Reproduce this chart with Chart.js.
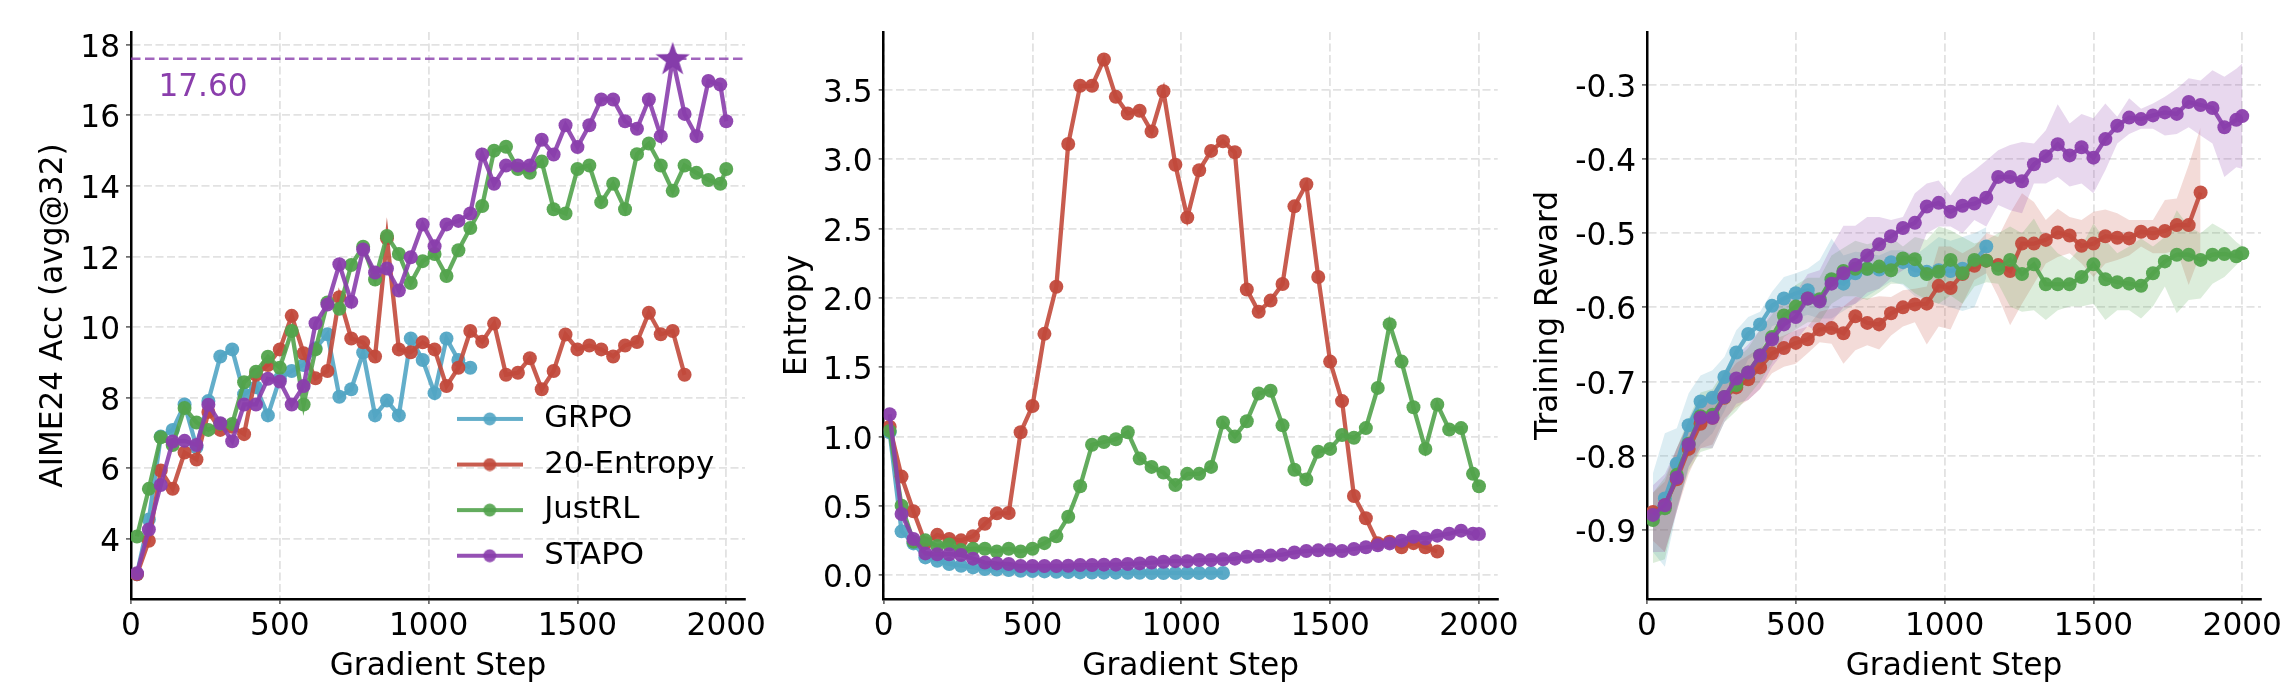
<!DOCTYPE html>
<html>
<head>
<meta charset="utf-8">
<script src="https://cdn.jsdelivr.net/npm/chart.js@4"></script>
<style>
  html, body { margin: 0; padding: 0; background: #fff; }
  canvas { position: absolute; top: 0; }
</style>
</head>
<body>
<canvas id="accChart" width="785" height="700" style="left:0"></canvas>
<canvas id="entropyChart" width="768" height="700" style="left:770px"></canvas>
<canvas id="rewardChart" width="786" height="700" style="left:1510px"></canvas>
<script>
const steps = [20, 60, 100, 140, 180, 220, 260, 300, 340, 380, 420, 460, 500, 540, 580, 620, 660, 700, 740, 780, 820, 860, 900, 940, 980,
    1020, 1060, 1100, 1140, 1180, 1220, 1260, 1300, 1340, 1380, 1420, 1460, 1500, 1540, 1580, 1620, 1660, 1700, 1740, 1780, 1820, 1860, 1900, 1940, 1980, 2000];

const names = ['GRPO', '20-Entropy', 'JustRL', 'STAPO'];
const colors = ['82, 165, 196', '194, 74, 60', '82, 163, 76', '138, 62, 172'];

const stepTicks = [0, 500, 1000, 1500, 2000];
const accTicks = [4, 6, 8, 10, 12, 14, 16, 18];
const entTicks = [0, 0.5, 1, 1.5, 2, 2.5, 3, 3.5];
const rewTicks = [-0.9, -0.8, -0.7, -0.6, -0.5, -0.4, -0.3];

// AIME24 Acc (avg@32)
const accGrpo = [3.0, 4.55, 6.9, 7.09, 7.81, 6.6, 7.91, 9.17, 9.37, 8.1, 8.3, 7.5, 8.55, 8.76, 8.93, 9.4, 9.8, 8.03, 8.24, 9.28, 7.5, 7.92, 7.5, 9.68, 9.07, 8.13, 9.68, 9.07, 8.85];
const accEntropy = [3.0, 3.95, 5.94, 5.42, 6.45, 6.25, 7.6, 7.09, 7.18, 6.97, 8.65, 8.93, 9.37, 10.32, 9.26, 8.55, 8.76, 10.85, 9.68, 9.57, 9.17, 12.52, 9.37, 9.29, 9.57,
    9.37, 8.33, 8.85, 9.89, 9.59, 10.1, 8.65, 8.71, 9.12, 8.24, 8.76, 9.79, 9.37, 9.48, 9.37, 9.17, 9.48, 9.58, 10.41, 9.8, 9.89, 8.65];
const accJustrl = [4.07, 5.42, 6.88, 6.66, 7.71, 7.3, 7.09, 7.26, 7.26, 8.44, 8.74, 9.16, 8.85, 9.89, 7.81, 9.37, 10.7, 10.52, 11.76, 12.28, 11.35, 12.58, 12.07, 11.25, 11.87,
    12.07, 11.45, 12.18, 12.81, 13.43, 15.0, 15.11, 14.48, 14.37, 14.69, 13.34, 13.22, 14.48, 14.58, 13.54, 14.06, 13.34, 14.9, 15.2, 14.58, 13.86, 14.58, 14.37, 14.17, 14.06, 14.48];
const accStapo = [3.03, 4.27, 5.53, 6.76, 6.78, 6.66, 7.8, 7.28, 6.77, 7.81, 7.81, 8.54, 8.46, 7.81, 8.33, 10.11, 10.64, 11.78, 10.72, 12.2, 11.55, 11.66, 11.04, 11.98, 12.91,
    12.29, 12.91, 13.01, 13.22, 14.89, 14.06, 14.58, 14.58, 14.58, 15.31, 14.89, 15.72, 15.1, 15.72, 16.45, 16.45, 15.83, 15.62, 16.45, 15.41, 17.6, 16.04, 15.41, 16.97, 16.87, 15.83];
const bestStep = 1820;
const bestAcc = 17.6;
const bestLabel = '17.60';

// Entropy
const entGrpo = [1.03, 0.315, 0.228, 0.127, 0.103, 0.08, 0.067, 0.055, 0.043, 0.04, 0.036, 0.03, 0.029, 0.026, 0.024, 0.022, 0.019, 0.018, 0.017, 0.017, 0.016, 0.016, 0.015, 0.015, 0.015, 0.015, 0.015, 0.015, 0.015];
const entEntropy = [1.07, 0.71, 0.46, 0.23, 0.29, 0.26, 0.25, 0.28, 0.37, 0.445, 0.447, 1.03, 1.22, 1.74, 2.08, 3.11, 3.53, 3.53, 3.72, 3.45, 3.33, 3.35, 3.2, 3.49, 2.96,
    2.58, 2.92, 3.06, 3.13, 3.05, 2.06, 1.9, 1.98, 2.1, 2.66, 2.82, 2.15, 1.54, 1.255, 0.57, 0.41, 0.23, 0.24, 0.2, 0.23, 0.2, 0.17];
const entJustrl = [1.04, 0.5, 0.24, 0.25, 0.21, 0.22, 0.18, 0.19, 0.19, 0.17, 0.19, 0.17, 0.19, 0.23, 0.28, 0.42, 0.64, 0.94, 0.96, 0.98, 1.03, 0.84, 0.78, 0.74, 0.65,
    0.73, 0.73, 0.78, 1.1, 1.0, 1.11, 1.31, 1.33, 1.08, 0.76, 0.69, 0.89, 0.91, 1.01, 0.99, 1.06, 1.35, 1.81, 1.54, 1.21, 0.91, 1.23, 1.05, 1.06, 0.73, 0.64];
const entStapo = [1.16, 0.44, 0.26, 0.156, 0.15, 0.15, 0.145, 0.118, 0.09, 0.084, 0.08, 0.065, 0.065, 0.065, 0.065, 0.067, 0.072, 0.072, 0.075, 0.075, 0.08, 0.084, 0.09, 0.096, 0.1,
    0.1, 0.108, 0.108, 0.113, 0.118, 0.132, 0.137, 0.14, 0.147, 0.163, 0.173, 0.178, 0.18, 0.173, 0.188, 0.2, 0.214, 0.228, 0.248, 0.276, 0.264, 0.284, 0.298, 0.32, 0.298, 0.296];

// Training reward, mean and band edges
const rewGrpo = [-0.88, -0.858, -0.811, -0.759, -0.727, -0.722, -0.694, -0.661, -0.636, -0.623, -0.598, -0.588, -0.581, -0.577, -0.59, -0.563, -0.568, -0.554, -0.548, -0.549, -0.539, -0.539, -0.55, -0.552, -0.55, -0.551, -0.548, -0.539, -0.518];
const rewGrpoHigh = [-0.824, -0.77, -0.763, -0.716, -0.692, -0.685, -0.667, -0.631, -0.613, -0.606, -0.579, -0.559, -0.554, -0.548, -0.536, -0.507, -0.53, -0.525, -0.527, -0.53, -0.523, -0.523, -0.53, -0.518, -0.505, -0.51, -0.505, -0.5, -0.492];
const rewGrpoLow = [-0.93, -0.95, -0.875, -0.815, -0.785, -0.77, -0.74, -0.705, -0.67, -0.66, -0.625, -0.62, -0.615, -0.61, -0.615, -0.615, -0.605, -0.595, -0.585, -0.575, -0.565, -0.57, -0.585, -0.59, -0.595, -0.6, -0.605, -0.6, -0.56];

const rewEntropy = [-0.876, -0.867, -0.832, -0.791, -0.757, -0.749, -0.722, -0.708, -0.697, -0.681, -0.662, -0.655, -0.648, -0.643, -0.63, -0.628, -0.635, -0.612, -0.621, -0.623, -0.608, -0.6, -0.596, -0.595, -0.571,
    -0.574, -0.555, -0.544, -0.537, -0.543, -0.551, -0.514, -0.514, -0.509, -0.499, -0.503, -0.517, -0.514, -0.504, -0.506, -0.507, -0.498, -0.5, -0.497, -0.489, -0.489, -0.445];
const rewEntropyHigh = [-0.85, -0.835, -0.79, -0.755, -0.725, -0.715, -0.695, -0.675, -0.665, -0.655, -0.644, -0.638, -0.631, -0.626, -0.606, -0.602, -0.599, -0.586, -0.588, -0.585, -0.586, -0.577, -0.575, -0.572, -0.518,
    -0.518, -0.527, -0.518, -0.5, -0.505, -0.473, -0.446, -0.458, -0.482, -0.467, -0.478, -0.482, -0.471, -0.468, -0.473, -0.482, -0.482, -0.482, -0.455, -0.453, -0.408, -0.357];
const rewEntropyLow = [-0.915, -0.93, -0.875, -0.825, -0.79, -0.785, -0.75, -0.735, -0.725, -0.71, -0.689, -0.68, -0.676, -0.662, -0.647, -0.649, -0.676, -0.658, -0.651, -0.657, -0.638, -0.626, -0.62, -0.65, -0.626,
    -0.63, -0.595, -0.563, -0.554, -0.586, -0.624, -0.595, -0.568, -0.541, -0.532, -0.527, -0.541, -0.559, -0.541, -0.536, -0.53, -0.518, -0.527, -0.527, -0.523, -0.57, -0.527];

const rewJustrl = [-0.887, -0.871, -0.826, -0.784, -0.747, -0.745, -0.721, -0.705, -0.688, -0.665, -0.64, -0.611, -0.599, -0.588, -0.589, -0.562, -0.551, -0.548, -0.548, -0.545, -0.55, -0.534, -0.535, -0.555, -0.552,
    -0.536, -0.554, -0.536, -0.537, -0.548, -0.536, -0.555, -0.542, -0.569, -0.569, -0.569, -0.559, -0.542, -0.562, -0.566, -0.568, -0.571, -0.554, -0.538, -0.529, -0.529, -0.536, -0.529, -0.528, -0.531, -0.527];
const rewJustrlHigh = [-0.85, -0.83, -0.79, -0.75, -0.715, -0.71, -0.685, -0.67, -0.655, -0.63, -0.61, -0.585, -0.57, -0.56, -0.56, -0.53, -0.52, -0.51, -0.515, -0.51, -0.505, -0.518, -0.505, -0.509, -0.491,
    -0.496, -0.505, -0.514, -0.509, -0.5, -0.491, -0.5, -0.48, -0.509, -0.527, -0.536, -0.518, -0.487, -0.509, -0.527, -0.518, -0.507, -0.518, -0.505, -0.469, -0.491, -0.5, -0.487, -0.496, -0.512, -0.518];
const rewJustrlLow = [-0.945, -0.94, -0.87, -0.82, -0.795, -0.79, -0.755, -0.74, -0.72, -0.7, -0.675, -0.64, -0.63, -0.62, -0.62, -0.595, -0.585, -0.585, -0.59, -0.58, -0.568, -0.568, -0.581, -0.59, -0.595,
    -0.584, -0.595, -0.572, -0.566, -0.568, -0.599, -0.606, -0.604, -0.617, -0.604, -0.599, -0.599, -0.595, -0.617, -0.604, -0.604, -0.615, -0.599, -0.572, -0.608, -0.59, -0.588, -0.568, -0.559, -0.543, -0.536];

const rewStapo = [-0.88, -0.867, -0.83, -0.785, -0.749, -0.749, -0.721, -0.696, -0.688, -0.665, -0.643, -0.623, -0.613, -0.588, -0.592, -0.568, -0.554, -0.543, -0.53, -0.515, -0.504, -0.493, -0.486, -0.464, -0.459,
    -0.471, -0.463, -0.46, -0.452, -0.424, -0.424, -0.43, -0.407, -0.396, -0.38, -0.395, -0.384, -0.398, -0.373, -0.355, -0.344, -0.346, -0.341, -0.337, -0.339, -0.323, -0.327, -0.331, -0.357, -0.347, -0.342];
const rewStapoHigh = [-0.84, -0.825, -0.79, -0.755, -0.725, -0.715, -0.69, -0.665, -0.65, -0.63, -0.605, -0.585, -0.58, -0.555, -0.55, -0.518, -0.49, -0.49, -0.478, -0.478, -0.482, -0.478, -0.446, -0.433, -0.429,
    -0.449, -0.426, -0.415, -0.402, -0.388, -0.381, -0.377, -0.379, -0.361, -0.326, -0.352, -0.339, -0.345, -0.325, -0.343, -0.318, -0.332, -0.325, -0.316, -0.305, -0.291, -0.294, -0.28, -0.289, -0.278, -0.271];
const rewStapoLow = [-0.93, -0.93, -0.875, -0.815, -0.79, -0.79, -0.755, -0.73, -0.725, -0.71, -0.68, -0.66, -0.645, -0.625, -0.635, -0.62, -0.6, -0.595, -0.58, -0.575, -0.56, -0.55, -0.54, -0.5, -0.491,
    -0.491, -0.5, -0.482, -0.491, -0.462, -0.469, -0.473, -0.433, -0.433, -0.424, -0.437, -0.433, -0.446, -0.415, -0.379, -0.366, -0.359, -0.359, -0.368, -0.366, -0.357, -0.368, -0.379, -0.424, -0.411, -0.413];

const fontFamily = "'DejaVu Sans', sans-serif";
const xEnd = 2063;

function pts(vals) {
    return vals.map(function (v, i) { return { x: steps[i], y: v }; });
}

function lineSet(vals, index) {
    return {
        label: names[index],
        data: pts(vals),
        borderColor: `rgba(${colors[index]}, 0.9)`,
        backgroundColor: `rgba(${colors[index]}, 0.95)`,
        borderWidth: 4.3,
        pointRadius: 7,
        pointBorderWidth: 0,
        tension: 0,
        fill: false,
        order: 4 - index,
    };
}

function bandSets(high, low, index) {
    return [
        {
            label: names[index] + ' high',
            data: pts(high),
            borderWidth: 0,
            pointRadius: 0,
            backgroundColor: `rgba(${colors[index]}, 0.2)`,
            fill: '+1',
            order: 20 - index,
        },
        {
            label: names[index] + ' low',
            data: pts(low),
            borderWidth: 0,
            pointRadius: 0,
            fill: false,
            order: 20 - index,
        },
    ];
}

function swatch(index) {
    const c = document.createElement('canvas');
    c.width = 66;
    c.height = 14;
    const g = c.getContext('2d');
    g.fillStyle = `rgba(${colors[index]}, 0.9)`;
    g.fillRect(0, 5, 66, 4);
    g.beginPath();
    g.arc(33, 7, 6.5, 0, Math.PI * 2);
    g.fill();
    return c;
}

function starImage() {
    const c = document.createElement('canvas');
    c.width = 36;
    c.height = 36;
    const g = c.getContext('2d');
    g.fillStyle = 'rgb(133, 60, 170)';
    g.beginPath();
    for (let i = 0; i < 10; i++) {
        const r = i % 2 ? 7 : 18;
        const a = -Math.PI / 2 + i * Math.PI / 5;
        g.lineTo(18 + r * Math.cos(a), 19 + r * Math.sin(a));
    }
    g.closePath();
    g.fill();
    return c;
}

function setTicks(values) {
    return function (scale) {
        scale.ticks = values.map(function (v) { return { value: v }; });
    };
}

function axisOptions(spec) {
    const gridStyle = {
        color: '#e2e2e2',
        lineWidth: 1.8,
        tickColor: '#555',
        tickWidth: 1.5,
        tickBorderDash: [],
        tickLength: 5,
    };
    const borderStyle = { color: '#000', width: 2.5, dash: [8, 3.5] };
    return {
        x: {
            type: 'linear',
            min: 0,
            max: xEnd,
            grid: gridStyle,
            border: borderStyle,
            afterBuildTicks: setTicks(stepTicks),
            ticks: {
                autoSkip: false,
                maxRotation: 0,
                color: '#000',
                padding: 4,
                font: { family: fontFamily, size: 31.2 },
                callback: function (v) { return String(v); },
            },
            title: {
                display: true,
                text: 'Gradient Step',
                color: '#000',
                padding: { top: 0, bottom: 14 },
                font: { family: fontFamily, size: 31.2 },
            },
            afterFit: function (scale) { scale.height = 101; },
        },
        y: {
            type: 'linear',
            min: spec.min,
            max: spec.max,
            grid: gridStyle,
            border: borderStyle,
            afterBuildTicks: setTicks(spec.ticks),
            ticks: {
                autoSkip: false,
                color: '#000',
                padding: 6,
                // short line height plus an empty first line nudges the digits down onto the grid line
                font: { family: fontFamily, size: 31.2, lineHeight: '8px' },
                callback: function (v) { return ['', spec.format(v)]; },
            },
            title: {
                display: true,
                text: spec.title,
                color: '#000',
                padding: { top: spec.titlePad, bottom: 0 },
                font: { family: fontFamily, size: 31.2 },
            },
            afterFit: function (scale) { scale.width = spec.width; },
        },
    };
}

function baseOptions(spec) {
    return {
        responsive: false,
        animation: false,
        devicePixelRatio: 1,
        layout: { padding: { top: 32, right: spec.right, bottom: 0, left: 0 } },
        scales: axisOptions(spec),
        plugins: {
            legend: { display: false },
            tooltip: { enabled: false },
        },
    };
}

const accOptions = baseOptions({
    min: 2.3, max: 18.36, ticks: accTicks, title: 'AIME24 Acc (avg@32)', titlePad: 35, width: 131, right: 40,
    format: function (v) { return String(v); },
});
accOptions.plugins.legend = {
    display: true,
    position: 'chartArea',
    align: 'start',
    labels: {
        usePointStyle: true,
        pointStyleWidth: 78,
        color: '#000',
        padding: 14.8,
        font: { family: fontFamily, size: 30.8 },
        generateLabels: function () {
            return names.map(function (name, i) {
                return { text: name, pointStyle: swatch(i), fontColor: '#000', lineWidth: 0, strokeStyle: 'transparent', fillStyle: 'transparent', datasetIndex: i };
            });
        },
    },
};

// puts the legend over the lower right of the plot and writes the best value
const accExtras = {
    id: 'accExtras',
    afterLayout: function (chart) {
        chart.legend.left = chart.scales.x.getPixelForValue(1075) - 15;
        chart.legend.top = chart.scales.y.getPixelForValue(7.35) - 32;
        chart.legend.right = chart.chartArea.right;
        chart.legend.bottom = chart.chartArea.bottom;
    },
    afterDatasetsDraw: function (chart) {
        const ctx = chart.ctx;
        ctx.save();
        ctx.fillStyle = 'rgb(138, 62, 172)';
        ctx.font = '31.2px ' + fontFamily;
        ctx.textAlign = 'left';
        ctx.textBaseline = 'middle';
        ctx.fillText(bestLabel, chart.scales.x.getPixelForValue(92), chart.scales.y.getPixelForValue(16.77));
        ctx.restore();
    },
};

new Chart(document.getElementById('accChart'), {
    type: 'line',
    data: {
        datasets: [
            lineSet(accGrpo, 0),
            lineSet(accEntropy, 1),
            lineSet(accJustrl, 2),
            lineSet(accStapo, 3),
            {
                label: 'best line',
                data: [{ x: 0, y: bestAcc }, { x: xEnd, y: bestAcc }],
                borderColor: 'rgba(138, 62, 172, 0.8)',
                borderWidth: 2.5,
                borderDash: [9.5, 4.5],
                pointRadius: 0,
                order: 0,
            },
            {
                label: 'best point',
                data: [{ x: bestStep, y: bestAcc }],
                pointStyle: starImage(),
                pointRadius: 18,
                showLine: false,
                clip: false,
                order: -1,
            },
        ],
    },
    options: accOptions,
    plugins: [accExtras],
});

new Chart(document.getElementById('entropyChart'), {
    type: 'line',
    data: {
        datasets: [
            lineSet(entGrpo, 0),
            lineSet(entEntropy, 1),
            lineSet(entJustrl, 2),
            lineSet(entStapo, 3),
        ],
    },
    options: baseOptions({
        min: -0.173, max: 3.918, ticks: entTicks, title: 'Entropy', titlePad: 9, width: 113.7, right: 40.3,
        format: function (v) { return v.toFixed(1); },
    }),
});

new Chart(document.getElementById('rewardChart'), {
    type: 'line',
    data: {
        datasets: [
            lineSet(rewGrpo, 0),
            lineSet(rewEntropy, 1),
            lineSet(rewJustrl, 2),
            lineSet(rewStapo, 3),
            ...bandSets(rewGrpoHigh, rewGrpoLow, 0),
            ...bandSets(rewEntropyHigh, rewEntropyLow, 1),
            ...bandSets(rewJustrlHigh, rewJustrlLow, 2),
            ...bandSets(rewStapoHigh, rewStapoLow, 3),
        ],
    },
    options: baseOptions({
        min: -0.9935, max: -0.2285, ticks: rewTicks, title: 'Training Reward', titlePad: 20.5, width: 137, right: 35,
        format: function (v) { return v.toFixed(1); },
    }),
});
</script>
</body>
</html>
